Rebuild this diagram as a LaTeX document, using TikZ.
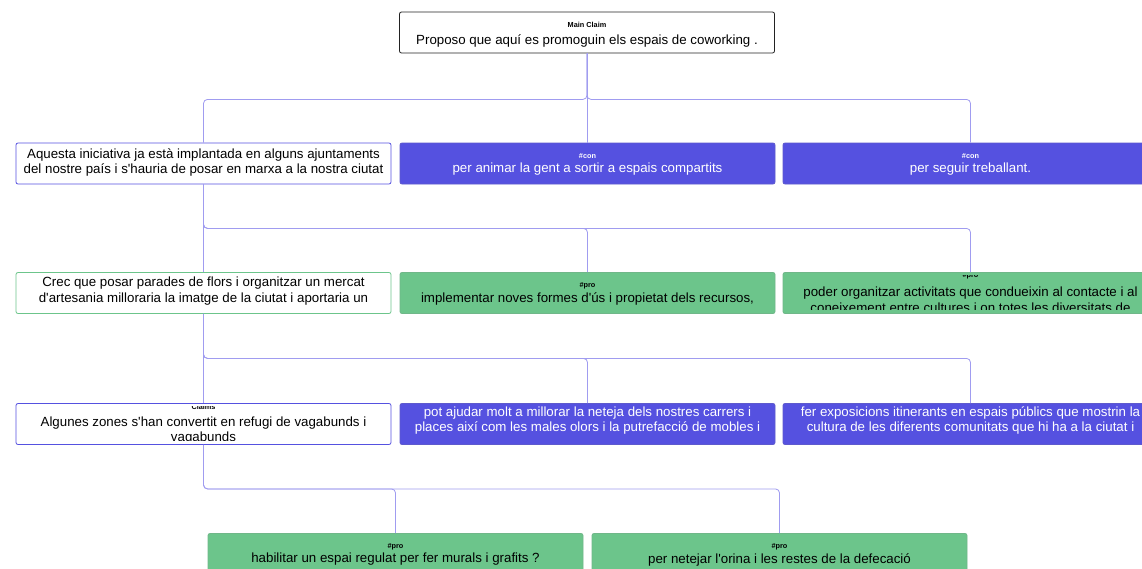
\documentclass[tikz,border=0pt]{standalone}
\usepackage{fontspec}
\setmainfont{Liberation Sans}
\definecolor{cpurple}{HTML}{5551E0}
\definecolor{cgreen}{HTML}{6CC58B}
\definecolor{cline}{HTML}{A09CF0}
\definecolor{cdark}{HTML}{222222}
\newcommand{\q}{\textquotesingle}
\tikzset{
  base/.style={rectangle, rounded corners=2pt, minimum width=375pt, minimum height=41pt, inner sep=0pt, line width=0.8pt},
  mainbox/.style={base, draw=cdark, fill=white},
  purpleout/.style={base, draw=cpurple, fill=white},
  greenout/.style={base, draw=cgreen, fill=white},
  purplefill/.style={base, draw=cpurple!80!gray, fill=cpurple},
  greenfill/.style={base, draw=cgreen!80!gray, fill=cgreen},
  txt/.style={inner sep=0pt, align=center, font=\fontsize{13.3}{15.8}\selectfont},
  lbl/.style={inner sep=0pt, font=\fontsize{7.3}{8}\selectfont\bfseries},
  conn/.style={draw=cline, line width=0.8pt, rounded corners=4pt},
}
\newcommand{\clipin}[2]{\begin{scope}\clip ([yshift=4.5pt]#1.south west) rectangle ([yshift=-3.5pt]#1.north east); #2 \end{scope}}
\begin{document}
\begin{tikzpicture}[x=1pt,y=-1pt]
\useasboundingbox (0,0) rectangle (1142,568);
\fill[white] (0,0) rectangle (1142,568);

% nodes
\node[mainbox] (main) at (587,32.5) {};
\node[purpleout] (a) at (203.5,163.5) {};
\node[purplefill] (con1) at (587.5,163.5) {};
\node[purplefill] (con2) at (970.5,163.5) {};
\node[greenout] (b) at (203.5,293) {};
\node[greenfill] (pro1) at (587.5,293) {};
\node[greenfill] (pro2) at (970.5,293) {};
\node[purpleout] (c) at (203.5,424) {};
\node[purplefill] (con3) at (587.5,424) {};
\node[purplefill] (con4) at (970.5,424) {};
\node[greenfill] (pro3) at (395.5,554) {};
\node[greenfill] (pro4) at (779.5,554) {};

% edges
\draw[conn] (main.south) -- ++(0,46) -| (a.north);
\draw[conn] (main.south) -- (main.south |- con1.north);
\draw[conn] (main.south) -- ++(0,46) -| (con2.north);
\draw[conn] (a.south) -- (b.north);
\draw[conn] (a.south) -- ++(0,44) -| (pro1.north);
\draw[conn] (a.south) -- ++(0,44) -| (pro2.north);
\draw[conn] (b.south) -- (c.north);
\draw[conn] (b.south) -- ++(0,44.5) -| (con3.north);
\draw[conn] (b.south) -- ++(0,44.5) -| (con4.north);
\draw[conn] (c.south) -- ++(0,44) -| (pro3.north);
\draw[conn] (c.south) -- ++(0,44) -| (pro4.north);

% texts
\clipin{main}{
 \node[lbl] (mainL) at (587,24.5) {Main Claim};
 \node[txt] (mainT) at (587,41) {Proposo que aquí es promoguin els espais de coworking .};
}
\clipin{a}{
 \node[txt] (aT) at (203.5,162.5) {Aquesta iniciativa ja està implantada en alguns ajuntaments\\del nostre país i s\q hauria de posar en marxa a la nostra ciutat};
}
\clipin{con1}{
 \node[lbl, text=white] (con1L) at (587.5,156) {\#con};
 \node[txt, text=white] (con1T) at (587.5,169.5) {per animar la gent a sortir a espais compartits};
}
\clipin{con2}{
 \node[lbl, text=white] (con2L) at (970.5,156) {\#con};
 \node[txt, text=white] (con2T) at (970.5,169.5) {per seguir treballant.};
}
\clipin{b}{
 \node[txt] (bT) at (203.5,291) {Crec que posar parades de flors i organitzar un mercat\\d\q artesania milloraria la imatge de la ciutat i aportaria un};
}
\clipin{pro1}{
 \node[lbl] (pro1L) at (587.5,285.5) {\#pro};
 \node[txt] (pro1T) at (587.5,298.5) {implementar noves formes d\q ús i propietat dels recursos,};
}
\clipin{pro2}{
 \node[lbl] (pro2L) at (970.5,276) {\#pro};
 \node[txt] (pro2T) at (970.5,299.5) {poder organitzar activitats que condueixin al contacte i al\\coneixement entre cultures i on totes les diversitats de};
}
\clipin{c}{
 \node[lbl] (cL) at (203.5,407) {Claims};
 \node[txt] (cT) at (203.5,430.5) {Algunes zones s\q han convertit en refugi de vagabunds i\\vagabunds};
}
\clipin{con3}{
 \node[txt, text=white] (con3T) at (587.5,420.5) {pot ajudar molt a millorar la neteja dels nostres carrers i\\places així com les males olors i la putrefacció de mobles i};
}
\clipin{con4}{
 \node[txt, text=white] (con4T) at (970.5,420.5) {fer exposicions itinerants en espais públics que mostrin la\\cultura de les diferents comunitats que hi ha a la ciutat i};
}
\clipin{pro3}{
 \node[lbl] (pro3L) at (395.5,546.5) {\#pro};
 \node[txt] (pro3T) at (395.5,559.5) {habilitar un espai regulat per fer murals i grafits ?};
}
\clipin{pro4}{
 \node[lbl] (pro4L) at (779.5,546.5) {\#pro};
 \node[txt] (pro4T) at (779.5,559.5) {per netejar l\q orina i les restes de la defecació};
}
\end{tikzpicture}
\end{document}
